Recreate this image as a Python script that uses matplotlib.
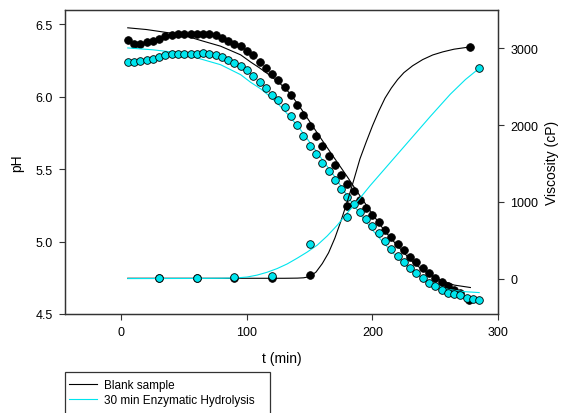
import matplotlib
matplotlib.use("Agg")
import matplotlib.pyplot as plt
from matplotlib.lines import Line2D
from matplotlib.patches import Rectangle

plt.rcParams["font.family"] = ["Liberation Sans", "DejaVu Sans"]

# pH readings (every 5 min)
t_ph_blank = [5, 10, 15, 20, 25, 30, 35, 40, 45, 50, 55, 60, 65, 70, 75, 80, 85, 90,
              95, 100, 105, 110, 115, 120, 125, 130, 135, 140, 145, 150, 155, 160,
              165, 170, 175, 180, 185, 190, 195, 200, 205, 210, 215, 220, 225, 230,
              235, 240, 245, 250, 255, 260, 265, 270, 277]
ph_blank = [6.396, 6.366, 6.368, 6.377, 6.389, 6.400, 6.419, 6.426, 6.431, 6.433,
            6.431, 6.433, 6.435, 6.435, 6.424, 6.408, 6.389, 6.368, 6.350, 6.320,
            6.287, 6.241, 6.199, 6.158, 6.118, 6.070, 6.014, 5.944, 5.872, 5.799,
            5.732, 5.660, 5.593, 5.528, 5.463, 5.400, 5.347, 5.290, 5.234, 5.185,
            5.134, 5.083, 5.035, 4.984, 4.940, 4.896, 4.856, 4.817, 4.783, 4.748,
            4.722, 4.690, 4.668, 4.645, 4.600]

t_ph_enz = [5, 10, 15, 20, 25, 30, 35, 40, 45, 50, 55, 60, 65, 70, 75, 80, 85, 90,
            95, 100, 105, 110, 115, 120, 125, 130, 135, 140, 145, 150, 155, 160,
            165, 170, 175, 180, 185, 190, 195, 200, 205, 210, 215, 220, 225, 230,
            235, 240, 245, 250, 255, 260, 265, 270, 275, 280, 285]
ph_enz = [6.238, 6.238, 6.245, 6.252, 6.262, 6.273, 6.292, 6.296, 6.299, 6.299,
          6.299, 6.299, 6.303, 6.299, 6.287, 6.273, 6.252, 6.234, 6.210, 6.183,
          6.146, 6.102, 6.060, 6.014, 5.979, 5.933, 5.870, 5.806, 5.733, 5.660,
          5.604, 5.544, 5.486, 5.424, 5.366, 5.308, 5.257, 5.208, 5.158, 5.106,
          5.060, 5.007, 4.949, 4.903, 4.861, 4.817, 4.783, 4.748, 4.713, 4.690,
          4.665, 4.648, 4.641, 4.632, 4.609, 4.602, 4.595]

# pH fitted curves
t_phfit_blank = [5, 20, 38, 52, 63, 79, 95, 103, 110, 118, 126, 134, 141, 148, 158,
                 169, 180, 188, 200, 210, 220, 233, 245, 254, 265, 278]
phfit_blank = [6.477, 6.465, 6.442, 6.419, 6.390, 6.350, 6.290, 6.240, 6.200, 6.150,
               6.095, 6.026, 5.945, 5.855, 5.724, 5.585, 5.447, 5.342, 5.190, 5.070,
               4.970, 4.850, 4.775, 4.735, 4.700, 4.683]
t_phfit_enz = [5, 25, 50, 63, 79, 95, 103, 111, 118, 126, 134, 142, 148, 153, 158,
               169, 180, 190, 200, 210, 222, 235, 248, 260, 272, 285]
phfit_enz = [6.338, 6.325, 6.300, 6.262, 6.222, 6.153, 6.100, 6.055, 6.005, 5.940,
             5.865, 5.780, 5.710, 5.650, 5.590, 5.460, 5.315, 5.192, 5.080, 4.980,
             4.870, 4.775, 4.705, 4.670, 4.655, 4.648]

# viscosity readings
t_visc_blank = [30, 60, 90, 120, 150, 180, 278]
visc_blank = [10, 10, 10, 10, 52, 944, 3017]
t_visc_enz = [30, 60, 90, 120, 150, 180, 285]
visc_enz = [13, 13, 30, 43, 455, 801, 2736]

# viscosity fitted curves
t_vfit_blank = [5, 100, 130, 140, 145, 150, 155, 160, 165, 170, 175, 180, 185, 190,
                195, 200, 205, 210, 215, 220, 225, 232, 240, 248, 256, 265, 278]
vfit_blank = [9, 9, 9, 11, 15, 30, 90, 200, 340, 530, 760, 1010, 1280, 1560, 1780,
              1990, 2180, 2350, 2480, 2590, 2680, 2770, 2850, 2910, 2950, 2985, 3015]
t_vfit_enz = [5, 60, 80, 90, 100, 108, 116, 124, 132, 140, 148, 156, 164, 172, 180,
              190, 198, 206, 214, 222, 230, 246, 262, 274, 285]
vfit_enz = [5, 7, 9, 12, 25, 50, 87, 135, 195, 270, 350, 440, 560, 700, 860, 1050,
            1210, 1360, 1510, 1660, 1810, 2110, 2400, 2590, 2736]

CYAN = "#00e5ee"
SPINE = "#333333"

fig = plt.figure(figsize=(5.62, 4.14), dpi=100)
ax = fig.add_axes([65 / 562, 1 - 315 / 414, (498 - 65) / 562, (315 - 11) / 414])
ax2 = ax.twinx()

ax.plot(t_phfit_blank, phfit_blank, color="black", lw=0.8, zorder=2)
ax.plot(t_ph_blank, ph_blank, "o", ms=5.5, color="black", mec="black", mew=0.6, zorder=3)
ax.plot(t_phfit_enz, phfit_enz, color=CYAN, lw=0.8, zorder=4)
ax.plot(t_ph_enz, ph_enz, "o", ms=5.5, color=CYAN, mec="black", mew=0.6, zorder=5)

ax2.plot(t_vfit_blank, vfit_blank, color="black", lw=0.8, zorder=2)
ax2.plot(t_visc_blank, visc_blank, "o", ms=5.5, color="black", mec="black", mew=0.6, zorder=3)
ax2.plot(t_vfit_enz, vfit_enz, color=CYAN, lw=0.8, zorder=4)
ax2.plot(t_visc_enz, visc_enz, "o", ms=5.5, color=CYAN, mec="black", mew=0.6, zorder=5)

ax.set_xlim(-45, 300)
ax.set_ylim(4.5, 6.6)
ax2.set_ylim(-455, 3494)
ax.set_xticks([0, 100, 200, 300])
ax.set_yticks([4.5, 5.0, 5.5, 6.0, 6.5])
ax2.set_yticks([0, 1000, 2000, 3000])

for a in (ax, ax2):
    for s in a.spines.values():
        s.set_color(SPINE)
        s.set_linewidth(0.9)
    a.tick_params(direction="out", length=4, width=0.8, color=SPINE,
                  labelsize=9, pad=5)

ax.set_xlabel("t (min)", fontsize=10, labelpad=9)
ax.set_ylabel("pH", fontsize=10, labelpad=8)
ax2.set_ylabel("Viscosity (cP)", fontsize=10, labelpad=5)

handles = [Line2D([], [], color="black", lw=0.8),
           Line2D([], [], color=CYAN, lw=0.8)]
leg = fig.legend(handles, ["Blank sample", "30 min Enzymatic Hydrolysis"],
                 loc="upper left", bbox_to_anchor=(66 / 562, 1 - 377 / 414),
                 frameon=False, fontsize=8.5, handlelength=2.4, handletextpad=0.6,
                 labelspacing=0.3, borderpad=0.25, borderaxespad=0)
fig.patches.append(Rectangle((65 / 562, -0.05), (270 - 65) / 562, 0.05 + (414 - 373) / 414,
                             transform=fig.transFigure, fill=False,
                             edgecolor=SPINE, lw=0.9))

fig.savefig("out.png", dpi=100)
